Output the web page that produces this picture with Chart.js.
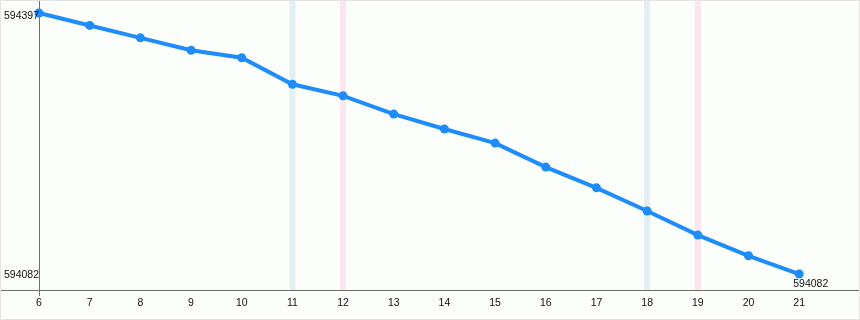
<!DOCTYPE html>
<html lang="en">
<head>
<meta charset="utf-8">
<script src="https://cdn.jsdelivr.net/npm/chart.js"></script>
<style>
    html, body { margin: 0; padding: 0; background: #ffffff; }
    #wrap { width: 860px; height: 320px; position: relative; }
</style>
</head>
<body>
<div id="wrap"><canvas id="myChart"></canvas></div>
<script>
// data
const steps = [6, 7, 8, 9, 10, 11, 12, 13, 14, 15, 16, 17, 18, 19, 20, 21];
const values = [594397, 594382, 594367, 594352, 594343, 594311, 594297, 594275,
                594257, 594240, 594211, 594186, 594158, 594129, 594104, 594082];
const blueMarks = [11, 18];
const pinkMarks = [12, 19];

const yMin = 594062.7;
const yMax = 594412.7;
const xMax = 22.18;

const lineColor = 'rgb(30, 140, 250)';
const labelFont = '10.5px "Liberation Sans", Arial, sans-serif';

const points = steps.map((s, i) => ({ x: s, y: values[i] }));

// background, vertical bands, axis lines, y labels, end label, outer border
const decor = {
    id: 'decor',
    beforeDraw(chart) {
        const ctx = chart.ctx;
        const xs = chart.scales.x;
        const area = chart.chartArea;
        ctx.save();
        ctx.fillStyle = '#fcfefb';
        ctx.fillRect(0, 0, chart.width, chart.height);
        const band = (v, c) => {
            const px = xs.getPixelForValue(v);
            ctx.fillStyle = c;
            ctx.fillRect(px - 3, area.top, 6, area.bottom - area.top);
        };
        blueMarks.forEach(v => band(v, '#e2eff3'));
        pinkMarks.forEach(v => band(v, '#fbe5f0'));
        ctx.strokeStyle = '#6e6e6e';
        ctx.lineWidth = 1;
        ctx.beginPath();
        ctx.moveTo(0, area.bottom + 0.5);
        ctx.lineTo(chart.width, area.bottom + 0.5);
        ctx.moveTo(area.left + 0.5, area.top);
        ctx.lineTo(area.left + 0.5, area.bottom + 6);
        ctx.stroke();
        ctx.restore();
    },
    afterDraw(chart) {
        const ctx = chart.ctx;
        const ys = chart.scales.y;
        const area = chart.chartArea;
        const last = chart.getDatasetMeta(0).data[steps.length - 1];
        const hi = Math.max(...values);
        const lo = Math.min(...values);
        ctx.save();
        ctx.font = labelFont;
        ctx.fillStyle = '#111';
        ctx.textAlign = 'right';
        ctx.textBaseline = 'middle';
        ctx.fillText(String(hi), area.left, ys.getPixelForValue(hi) + 3.5);
        ctx.fillText(String(lo), area.left, ys.getPixelForValue(lo) + 1.5);
        ctx.textAlign = 'left';
        ctx.textBaseline = 'top';
        ctx.fillText(String(values[values.length - 1]), last.x - 6, last.y + 5);
        ctx.strokeStyle = '#e4e4e4';
        ctx.strokeRect(0.5, 0.5, chart.width - 1, chart.height - 1);
        ctx.restore();
    }
};

new Chart(document.getElementById('myChart'), {
    type: 'line',
    data: {
        datasets: [{
            data: points,
            borderColor: lineColor,
            backgroundColor: lineColor,
            borderWidth: 4,
            pointRadius: 4.5,
            pointHoverRadius: 4.5,
            pointBorderWidth: 0,
            tension: 0,
            fill: false,
            clip: false
        }]
    },
    options: {
        responsive: true,
        maintainAspectRatio: false,
        animation: false,
        layout: { autoPadding: false, padding: { top: 0, right: 1, left: 39, bottom: 0 } },
        plugins: {
            legend: { display: false },
            tooltip: { enabled: false }
        },
        scales: {
            x: {
                type: 'linear',
                min: 6,
                max: xMax,
                afterBuildTicks: s => { s.ticks = steps.map(v => ({ value: v })); },
                afterFit: s => { s.height = 30; s.paddingLeft = 0; s.paddingRight = 0; },
                grid: { display: false, drawTicks: false },
                border: { display: false },
                ticks: {
                    padding: 7,
                    color: '#111',
                    font: { family: '"Liberation Sans", Arial, sans-serif', size: 10.5 },
                    maxRotation: 0,
                    autoSkip: false
                }
            },
            y: {
                display: false,
                min: yMin,
                max: yMax
            }
        }
    },
    plugins: [decor]
});
</script>
</body>
</html>
